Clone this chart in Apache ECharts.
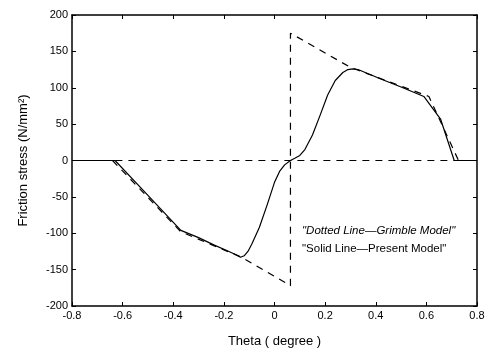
<!DOCTYPE html>
<html>
<head>
<meta charset="utf-8">
<script src="https://cdn.jsdelivr.net/npm/echarts@6/dist/echarts.min.js"></script>
<style>
  html, body { margin: 0; padding: 0; background: #fff; }
  #chart { width: 488px; height: 353px; }
</style>
</head>
<body>
<div id="chart"></div>
<script>
// data (theta in degree, stress in N/mm2)
var presentX = [-0.8, -0.63, -0.5, -0.37, -0.3, -0.24, -0.18, -0.15, -0.134, -0.12, -0.105, -0.09, -0.06, -0.03, 0, 0.02, 0.04, 0.063, 0.08, 0.1, 0.12, 0.15, 0.18, 0.21, 0.24, 0.27, 0.29, 0.31, 0.33, 0.42, 0.5, 0.59, 0.656, 0.71, 0.8];
var presentY = [0, 0, -48, -96, -106, -116, -125, -130, -133, -131, -125, -115, -92, -62, -30, -15, -6, 0, 3, 7, 15, 35, 62, 90, 110, 121, 125, 126, 125, 112, 101, 88, 57, 0, 0];

var grimbleX = [-0.64, -0.37, -0.13, 0.063, 0.063, 0.3, 0.61, 0.727];
var grimbleY = [0, -98, -133, -172, 175, 128, 88, 0];

var zeroX = [-0.68, 0.727];
var zeroY = [0, 0];

var xTicks = { min: -0.8, max: 0.8, step: 0.2 };
var yTicks = { min: -200, max: 200, step: 50 };

function pairs(xs, ys) {
    var out = [];
    for (var i = 0; i < xs.length; i++) out.push([xs[i], ys[i]]);
    return out;
}

var myChart = echarts.init(document.getElementById('chart'));
var fontFam = '"Liberation Sans", Arial, sans-serif';

var boxAxis = {
    axisLine: { show: true, onZero: false, lineStyle: { color: '#000', width: 1.5 } },
    axisTick: { show: true, inside: true, length: 4, lineStyle: { color: '#000' } },
    splitLine: { show: false }
};

var option = {
    animation: false,
    backgroundColor: '#fff',
    grid: { left: 72, right: 11, top: 15, bottom: 44 },
    xAxis: [
        echarts.util.merge({
            type: 'value', min: xTicks.min, max: xTicks.max, interval: xTicks.step,
            name: 'Theta ( degree )', nameLocation: 'middle', nameGap: 29,
            nameTextStyle: { color: '#000', fontSize: 13, fontFamily: fontFam },
            axisLabel: { color: '#000', fontSize: 11, fontFamily: fontFam, margin: 4 }
        }, boxAxis, true),
        echarts.util.merge({
            type: 'value', min: xTicks.min, max: xTicks.max, interval: xTicks.step,
            position: 'top', axisLabel: { show: false }
        }, boxAxis, true)
    ],
    yAxis: [
        echarts.util.merge({
            type: 'value', min: yTicks.min, max: yTicks.max, interval: yTicks.step,
            name: 'Friction stress (N/mm²)', nameLocation: 'middle', nameGap: 42,
            nameTextStyle: { color: '#000', fontSize: 13, fontFamily: fontFam },
            axisLabel: { color: '#000', fontSize: 11, fontFamily: fontFam, margin: 4 }
        }, boxAxis, true),
        echarts.util.merge({
            type: 'value', min: yTicks.min, max: yTicks.max, interval: yTicks.step,
            position: 'right', axisLabel: { show: false }
        }, boxAxis, true)
    ],
    series: [
        {
            type: 'line', data: pairs(zeroX, zeroY), symbol: 'none',
            lineStyle: { color: '#000', width: 1.2, type: [7, 6] }
        },
        {
            type: 'line', data: pairs(grimbleX, grimbleY), symbol: 'none',
            lineStyle: { color: '#000', width: 1.2, type: [7, 6] }
        },
        {
            type: 'line', data: pairs(presentX, presentY), symbol: 'none',
            lineStyle: { color: '#000', width: 1.2 }
        }
    ],
    graphic: [
        {
            type: 'text', left: 302, top: 225,
            style: { text: '"Dotted Line\u2014Grimble Model"', font: 'italic 11.5px ' + fontFam, fill: '#000' }
        },
        {
            type: 'text', left: 302, top: 243,
            style: { text: '"Solid Line\u2014Present Model"', font: '11.5px ' + fontFam, fill: '#000' }
        }
    ]
};

myChart.setOption(option);
</script>
</body>
</html>
